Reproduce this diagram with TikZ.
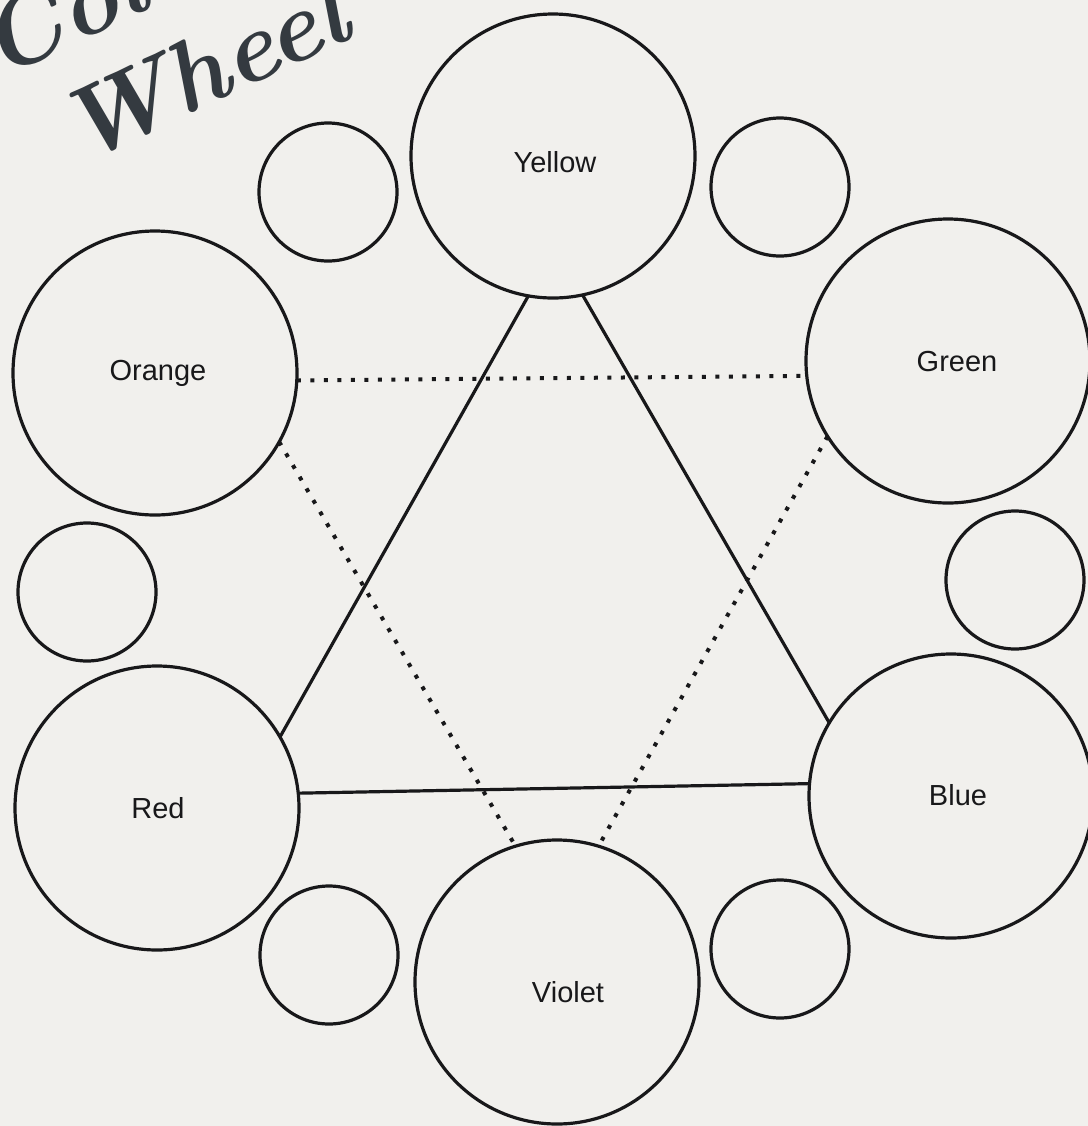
\documentclass[tikz,border=0pt]{standalone}
\usepackage{fontspec}
\newfontfamily\lab{Liberation Sans}
\definecolor{inkc}{RGB}{24,24,26}
\definecolor{titlec}{RGB}{52,58,64}
\definecolor{paper}{RGB}{241,240,237}
\begin{document}
\begin{tikzpicture}[x=0.5pt,y=-0.5pt,
  ink/.style={draw=inkc, line width=1.6pt},
  big/.style={circle, ink, minimum size=142pt, inner sep=0pt, outer sep=0pt},
  small/.style={circle, ink, minimum size=69pt, inner sep=0pt, outer sep=0pt},
  lbl/.style={font=\lab\fontsize{14.5pt}{17pt}\selectfont, text=inkc, inner sep=0pt},
  solidline/.style={draw=inkc, line width=1.6pt},
  dotline/.style={draw=inkc, line width=2pt, dash pattern=on 2pt off 4.75pt},
  titletext/.style={font=\fontsize{50pt}{56pt}\selectfont\bfseries\itshape, text=titlec, inner sep=0pt, rotate=25, anchor=base west}]
\useasboundingbox (0,0) rectangle (1088,1126);
\fill[paper] (0,0) rectangle (1088,1126);

% title
\node[titletext] (t1) at (-2,80) {Color};
\node[titletext] (t2) at (78,166) {Wheel};

% big circles
\node[big] (Y) at (553,156) {};
\node[big] (O) at (155,373) {};
\node[big] (G) at (948,361) {};
\node[big] (R) at (157,808) {};
\node[big] (B) at (951,796) {};
\node[big] (V) at (557,982) {};

% small circles
\node[small] (s1) at (328,192) {};
\node[small] (s2) at (780,187) {};
\node[small] (s3) at (87,592) {};
\node[small] (s4) at (1015,580) {};
\node[small] (s5) at (329,955) {};
\node[small] (s6) at (780,949) {};

% labels
\node[lbl] (lY) at (555,162) {Yellow};
\node[lbl] (lO) at (158,373) {Orange};
\node[lbl] (lG) at (957,362) {Green};
\node[lbl] (lR) at (158,808) {Red};
\node[lbl] (lB) at (958,795) {Blue};
\node[lbl] (lV) at (568,992) {Violet};

% primary triangle
\draw[solidline] (Y.-100) -- (R.30);
\draw[solidline] (Y.-78) -- (B.149);
\draw[solidline] (R.6) -- (B.175.5);

% secondary triangle
\draw[dotline] (O.-3) -- (G.186.5);
\draw[dotline] (O.-29) -- (V.107.7);
\draw[dotline] (G.-148) -- (V.73);
\end{tikzpicture}
\end{document}
